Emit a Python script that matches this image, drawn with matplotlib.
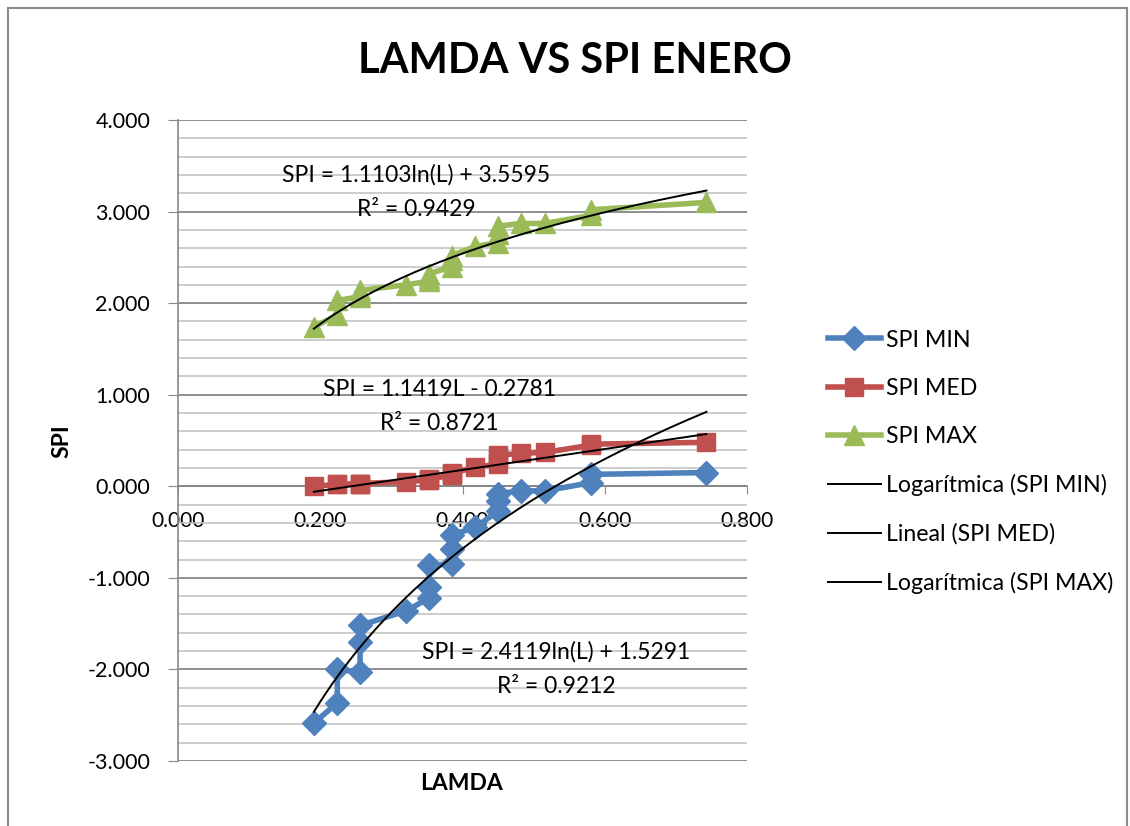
import matplotlib.pyplot as plt
import numpy as np
from matplotlib.ticker import MultipleLocator, FuncFormatter
from matplotlib.patches import Rectangle

plt.rcParams['font.family'] = ['Lato', 'DejaVu Sans']
plt.rcParams['axes.unicode_minus'] = False

# --- Datos ---
lamda = [0.191, 0.224, 0.224, 0.256, 0.256, 0.256, 0.321, 0.353, 0.353, 0.353,
         0.385, 0.385, 0.385, 0.418, 0.450, 0.450, 0.450, 0.482, 0.516,
         0.581, 0.581, 0.743]
spi_min = [-2.585, -2.366, -2.000, -2.030, -1.700, -1.520, -1.360, -1.220, -1.100, -0.860,
           -0.850, -0.680, -0.530, -0.450, -0.270, -0.160, -0.080, -0.050, -0.050,
           0.040, 0.130, 0.150]
spi_med = [0.000, 0.020, 0.020, 0.030, 0.030, 0.030, 0.050, 0.070, 0.070, 0.080,
           0.120, 0.130, 0.140, 0.210, 0.240, 0.300, 0.340, 0.360, 0.370,
           0.450, 0.460, 0.480]
spi_max = [1.740, 1.870, 2.030, 2.070, 2.100, 2.140, 2.200, 2.240, 2.270, 2.320,
           2.400, 2.470, 2.520, 2.620, 2.660, 2.760, 2.840, 2.870, 2.870,
           2.960, 3.020, 3.100]

# coeficientes de las lineas de tendencia (Excel)
min_a, min_b = 2.4119, 1.5291   # SPI = a ln(L) + b
med_m, med_c = 1.1419, -0.2781  # SPI = m L + c
max_a, max_b = 1.1103, 3.5595   # SPI = a ln(L) + b

blue = "#4F81BD"
red = "#C0504D"
green = "#9BBB59"
grid_major = "#878787"
grid_minor = "#C0C0C0"

fig = plt.figure(figsize=(11.3, 8.26), dpi=100)
ax = fig.add_axes([178/1130, 1 - 761/826, (747 - 178)/1130, (761 - 120)/826])

# borde del area del grafico
fig.patches.append(Rectangle((8/1130, -0.01), 1119/1130, 1.01 - 8/826,
                             transform=fig.transFigure, fill=False,
                             edgecolor="#8C8C8C", linewidth=1.5))

# series
ax.plot(lamda, spi_min, color=blue, lw=4, marker="D", ms=12.5,
        label="SPI MIN", zorder=3)
ax.plot(lamda, spi_med, color=red, lw=4, marker="s", ms=12.5,
        label="SPI MED", zorder=3)
ax.plot(lamda, spi_max, color=green, lw=4, marker="^", ms=14,
        label="SPI MAX", zorder=3)

# lineas de tendencia
xt = np.linspace(min(lamda), max(lamda), 200)
ax.plot(xt, min_a*np.log(xt) + min_b, color="black", lw=1.4,
        label="Logarítmica (SPI MIN)", zorder=4)
ax.plot(xt, med_m*xt + med_c, color="black", lw=1.4,
        label="Lineal (SPI MED)", zorder=4)
ax.plot(xt, max_a*np.log(xt) + max_b, color="black", lw=1.4,
        label="Logarítmica (SPI MAX)", zorder=4)

# ecuaciones
eq_kw = dict(ha="center", va="center", multialignment="center",
             fontsize=16.5, linespacing=1.8, zorder=5)
ax.text(0.335, 3.21, "SPI = 1.1103ln(L) + 3.5595\nR² = 0.9429", **eq_kw)
ax.text(0.368, 0.871, "SPI = 1.1419L - 0.2781\nR² = 0.8721", **eq_kw)
ax.text(0.532, -2.0, "SPI = 2.4119ln(L) + 1.5291\nR² = 0.9212", **eq_kw)

# ejes
ax.set_xlim(0, 0.8)
ax.set_ylim(-3, 4)
ax.xaxis.set_major_locator(MultipleLocator(0.2))
ax.yaxis.set_major_locator(MultipleLocator(1.0))
ax.yaxis.set_minor_locator(MultipleLocator(0.2))
fmt = FuncFormatter(lambda v, p: f"{v:.3f}")
ax.xaxis.set_major_formatter(fmt)
ax.yaxis.set_major_formatter(fmt)

ax.spines["top"].set_visible(False)
ax.spines["right"].set_visible(False)
ax.spines["bottom"].set_position(("data", 0))
for s in ("left", "bottom"):
    ax.spines[s].set_color(grid_major)
    ax.spines[s].set_linewidth(1.2)
ax.tick_params(axis="both", which="major", direction="out", length=7,
               color=grid_major, labelsize=15)
ax.tick_params(axis="y", which="major", labelsize=15.5, pad=13)
ax.tick_params(axis="x", which="major", length=6, pad=12)
ax.tick_params(axis="y", which="minor", length=0)

ax.set_axisbelow(True)
ax.grid(axis="y", which="major", color=grid_major, lw=1.3)
ax.grid(axis="y", which="minor", color=grid_minor, lw=1.1)

fig.text(575/1130, 1 - 61/826, "LAMDA VS SPI ENERO", ha="center", va="center",
         fontsize=30, fontweight="bold")
fig.text(62/1130, 1 - 441/826, "SPI", rotation=90, ha="center", va="center",
         fontsize=16.5, fontweight="bold")
fig.text(462/1130, 1 - 783/826, "LAMDA", ha="center", va="center",
         fontsize=16.5, fontweight="bold")

fig.legend(loc="upper left", bbox_to_anchor=(816/1130, 1 - 318/826),
           frameon=False, fontsize=16.7, handlelength=2.3, handletextpad=0.2,
           labelspacing=1.17, borderpad=0)

fig.savefig("out.png", dpi=100, facecolor="white")
